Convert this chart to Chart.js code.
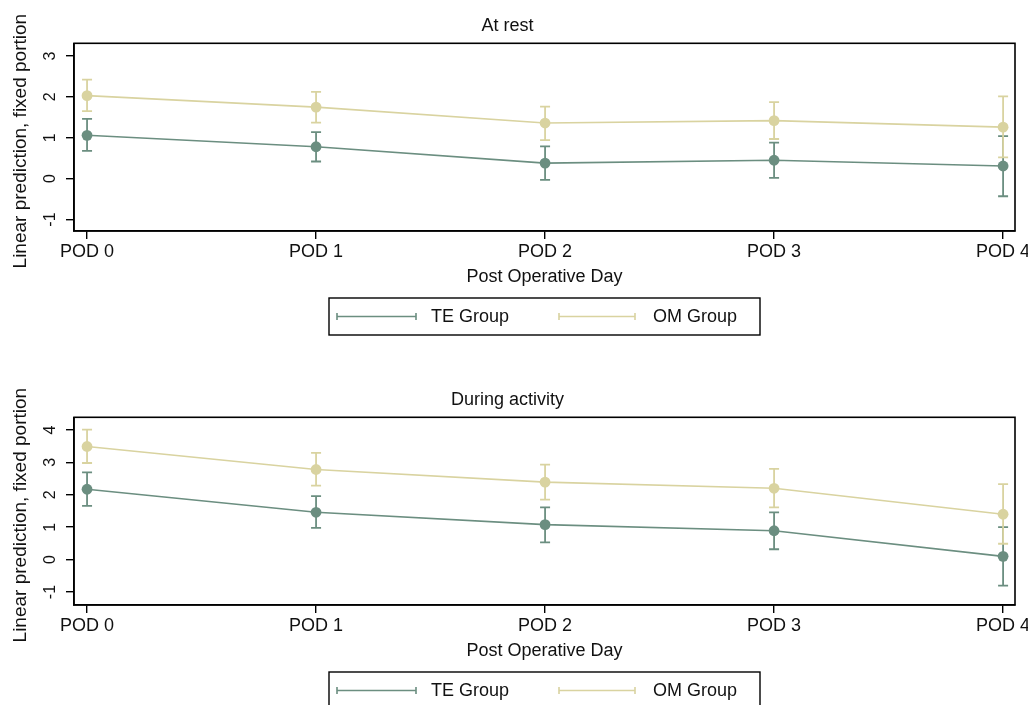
<!DOCTYPE html>
<html><head><meta charset="utf-8">
<script src="https://cdn.jsdelivr.net/npm/chart.js@4/dist/chart.umd.min.js"></script>
<style>
html,body{margin:0;padding:0;background:#fff;overflow:hidden;width:1028px;height:705px;}
canvas{position:absolute;left:0;}
#c1{top:0}
#c2{top:374px}
</style></head><body>
<canvas id="c1" width="1028" height="374"></canvas>
<canvas id="c2" width="1028" height="374"></canvas>
<script>
// ---- data ----
const categories = ['POD 0', 'POD 1', 'POD 2', 'POD 3', 'POD 4'];
const seriesNames = ['TE Group', 'OM Group'];
const panelTitles = ['At rest', 'During activity'];
const xTitle = 'Post Operative Day';
const yTitle = 'Linear prediction, fixed portion';

// At rest
const restTE     = [1.06, 0.78, 0.38, 0.45, 0.31];
const restTELow  = [0.68, 0.42, -0.03, 0.02, -0.43];
const restTEHigh = [1.46, 1.14, 0.79, 0.88, 1.04];
const restOM     = [2.03, 1.75, 1.36, 1.42, 1.26];
const restOMLow  = [1.65, 1.37, 0.94, 0.97, 0.52];
const restOMHigh = [2.42, 2.12, 1.76, 1.87, 2.01];
const restYTicks = [-1, 0, 1, 2, 3];

// During activity
const actTE     = [2.17, 1.46, 1.08, 0.89, 0.10];
const actTELow  = [1.66, 0.98, 0.53, 0.32, -0.80];
const actTEHigh = [2.69, 1.96, 1.61, 1.46, 1.00];
const actOM     = [3.49, 2.78, 2.39, 2.20, 1.40];
const actOMLow  = [2.98, 2.28, 1.85, 1.61, 0.49];
const actOMHigh = [4.01, 3.29, 2.93, 2.80, 2.33];
const actYTicks = [-1, 0, 1, 2, 3, 4];

// ---- styling ----
const FONT = '"Liberation Sans", Arial, Helvetica, sans-serif';
const TE_COLOR = '#6b8e80';
const OM_COLOR = '#d9d3a0';
const INK = '#111';

const errPlugin = {
  id: 'errbars',
  beforeDatasetsDraw(chart) {
    const ctx = chart.ctx, xs = chart.scales.x, ys = chart.scales.y;
    chart.data.datasets.forEach(ds => {
      ctx.save();
      ctx.strokeStyle = ds.borderColor;
      ctx.lineWidth = 1.8;
      ds.lo.forEach((lo, i) => {
        const x = xs.getPixelForValue(i);
        const y1 = ys.getPixelForValue(lo), y2 = ys.getPixelForValue(ds.hi[i]);
        ctx.beginPath();
        ctx.moveTo(x, y1); ctx.lineTo(x, y2);
        ctx.moveTo(x - 5, y1); ctx.lineTo(x + 5, y1);
        ctx.moveTo(x - 5, y2); ctx.lineTo(x + 5, y2);
        ctx.stroke();
      });
      ctx.restore();
    });
  },
  afterDraw(chart) {
    const ctx = chart.ctx, a = chart.chartArea, ys = chart.scales.y;
    ctx.save();
    // frame
    ctx.strokeStyle = '#000';
    ctx.lineWidth = 1.6;
    ctx.strokeRect(a.left, a.top, a.right - a.left, a.bottom - a.top);
    // y tick labels (rotated)
    ctx.fillStyle = INK;
    ctx.font = '16px ' + FONT;
    ctx.textAlign = 'center';
    ctx.textBaseline = 'middle';
    ys.ticks.forEach(t => {
      const y = ys.getPixelForValue(t.value);
      ctx.save();
      ctx.translate(51, y);
      ctx.rotate(-Math.PI / 2);
      ctx.fillText(String(t.value), 0, 0);
      ctx.restore();
    });
    // y title
    ctx.font = '19px ' + FONT;
    ctx.save();
    ctx.translate(21, (a.top + a.bottom) / 2 + 4);
    ctx.rotate(-Math.PI / 2);
    ctx.fillText(yTitle, 0, 0);
    ctx.restore();
    // legend
    const cx = (a.left + a.right) / 2;
    const bw = 431, bh = 37;
    const bx = cx - bw / 2, by = a.bottom + 67;
    ctx.lineWidth = 1.4;
    ctx.strokeStyle = '#000';
    ctx.strokeRect(bx, by, bw, bh);
    const ly = by + bh / 2;
    const items = [{x: bx + 8, len: 79, tx: bx + 102}, {x: bx + 230, len: 76, tx: bx + 324}];
    ctx.font = '18px ' + FONT;
    ctx.textAlign = 'left';
    chart.data.datasets.forEach((ds, i) => {
      const it = items[i];
      ctx.strokeStyle = ds.borderColor;
      ctx.lineWidth = 1.6;
      ctx.beginPath();
      ctx.moveTo(it.x, ly); ctx.lineTo(it.x + it.len, ly);
      ctx.moveTo(it.x, ly - 3.5); ctx.lineTo(it.x, ly + 3.5);
      ctx.moveTo(it.x + it.len, ly - 3.5); ctx.lineTo(it.x + it.len, ly + 3.5);
      ctx.stroke();
      ctx.fillStyle = INK;
      ctx.fillText(ds.label, it.tx, ly + 1);
    });
    ctx.restore();
  }
};

function makeChart(id, title, te, teLo, teHi, om, omLo, omHi, yTicks, yMin, yMax) {
  const mk = (name, vals, lo, hi, color) => ({
    label: name,
    data: vals.map((v, i) => ({x: i, y: v})),
    lo: lo, hi: hi,
    borderColor: color, backgroundColor: color,
    pointBackgroundColor: color, pointBorderColor: color,
    borderWidth: 1.6, pointRadius: 5.4, pointBorderWidth: 0, tension: 0
  });
  return new Chart(document.getElementById(id), {
    type: 'line',
    data: {datasets: [
      mk(seriesNames[0], te, teLo, teHi, TE_COLOR),
      mk(seriesNames[1], om, omLo, omHi, OM_COLOR)
    ]},
    options: {
      responsive: false, animation: false, devicePixelRatio: 1,
      layout: {padding: {left: 0, right: 13, top: 0, bottom: 83}},
      plugins: {
        legend: {display: false}, tooltip: {enabled: false},
        title: {display: true, text: title, color: INK,
          font: {family: FONT, size: 18, weight: 'normal'},
          padding: {top: 15, bottom: 6.7}}
      },
      scales: {
        x: {
          type: 'linear', min: -0.057, max: 4.052,
          afterBuildTicks: s => { s.ticks = categories.map((c, i) => ({value: i})); },
          afterFit: s => { s.height = 60; s.paddingLeft = 0; s.paddingRight = 0; },
          ticks: {callback: v => categories[v], color: INK, autoSkip: false,
            font: {family: FONT, size: 18}, padding: 2, maxRotation: 0, minRotation: 0},
          grid: {drawOnChartArea: false, tickLength: 8, color: '#000', lineWidth: 1.4},
          border: {display: true, color: '#000', width: 1.6},
          title: {display: true, text: xTitle, color: INK,
            font: {family: FONT, size: 18}, padding: {top: 0, bottom: 3}}
        },
        y: {
          min: yMin, max: yMax,
          afterBuildTicks: s => { s.ticks = yTicks.map(v => ({value: v})); },
          afterFit: s => { s.width = 74; },
          ticks: {display: false},
          grid: {drawOnChartArea: false, tickLength: 8, color: '#000', lineWidth: 1.4},
          border: {display: true, color: '#000', width: 1.6}
        }
      }
    },
    plugins: [errPlugin]
  });
}

makeChart('c1', panelTitles[0], restTE, restTELow, restTEHigh, restOM, restOMLow, restOMHigh, restYTicks, -1.28, 3.31);
makeChart('c2', panelTitles[1], actTE, actTELow, actTEHigh, actOM, actOMLow, actOMHigh, actYTicks, -1.40, 4.39);
</script>
</body></html>
